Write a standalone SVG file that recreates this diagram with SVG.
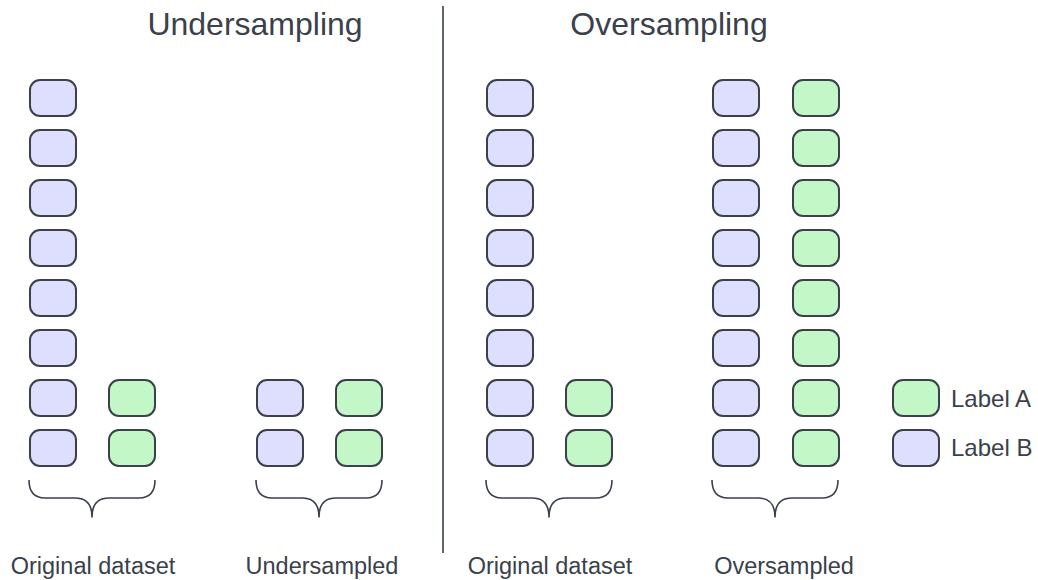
<svg xmlns="http://www.w3.org/2000/svg" width="1038" height="580" viewBox="0 0 1038 580">
  <defs>
    <rect id="cell" width="46" height="36" rx="10" ry="10"/>
    <path id="brace" d="M0 0 Q0 18 16 18 L46 18 Q63 18 63 37 Q63 18 80 18 L110 18 Q126 18 126 0"/>
  </defs>
  <style>
    .b { fill: #dedeff; stroke: #3a414a; stroke-width: 2; }
    .g { fill: #c3f7c8; stroke: #3a414a; stroke-width: 2; }
    .brace { fill: none; stroke: #3a414a; stroke-width: 1.6; stroke-linejoin: round; }
    .title { font-family: "Liberation Sans", Arial, sans-serif; font-size: 32px; fill: #3a414a; text-anchor: middle; }
    .lbl { font-family: "Liberation Sans", Arial, sans-serif; font-size: 23.5px; fill: #3a414a; text-anchor: middle; }
    .leg { font-family: "Liberation Sans", Arial, sans-serif; font-size: 24px; fill: #3a414a; }
  </style>
  <rect width="1038" height="580" fill="#ffffff"/>

  <!-- section titles and divider -->
  <text class="title" x="255" y="35">Undersampling</text>
  <text class="title" x="669" y="35">Oversampling</text>
  <line x1="443" y1="6" x2="443" y2="553" stroke="#5f6671" stroke-width="2"/>

  <!-- undersampling: original dataset -->
  <g id="under-original">
    <use href="#cell" class="b" x="30" y="80"/>
    <use href="#cell" class="b" x="30" y="130"/>
    <use href="#cell" class="b" x="30" y="180"/>
    <use href="#cell" class="b" x="30" y="230"/>
    <use href="#cell" class="b" x="30" y="280"/>
    <use href="#cell" class="b" x="30" y="330"/>
    <use href="#cell" class="b" x="30" y="380"/>
    <use href="#cell" class="b" x="30" y="430"/>
    <use href="#cell" class="g" x="109" y="380"/>
    <use href="#cell" class="g" x="109" y="430"/>
    <use href="#brace" class="brace" x="29" y="480"/>
    <text class="lbl" x="93" y="574">Original dataset</text>
  </g>

  <!-- undersampling: result -->
  <g id="under-result">
    <use href="#cell" class="b" x="257" y="380"/>
    <use href="#cell" class="b" x="257" y="430"/>
    <use href="#cell" class="g" x="336" y="380"/>
    <use href="#cell" class="g" x="336" y="430"/>
    <use href="#brace" class="brace" x="256" y="480"/>
    <text class="lbl" x="322" y="574">Undersampled</text>
  </g>

  <!-- oversampling: original dataset -->
  <g id="over-original">
    <use href="#cell" class="b" x="487" y="80"/>
    <use href="#cell" class="b" x="487" y="130"/>
    <use href="#cell" class="b" x="487" y="180"/>
    <use href="#cell" class="b" x="487" y="230"/>
    <use href="#cell" class="b" x="487" y="280"/>
    <use href="#cell" class="b" x="487" y="330"/>
    <use href="#cell" class="b" x="487" y="380"/>
    <use href="#cell" class="b" x="487" y="430"/>
    <use href="#cell" class="g" x="566" y="380"/>
    <use href="#cell" class="g" x="566" y="430"/>
    <use href="#brace" class="brace" x="486" y="480"/>
    <text class="lbl" x="550" y="574">Original dataset</text>
  </g>

  <!-- oversampling: result -->
  <g id="over-result">
    <use href="#cell" class="b" x="713" y="80"/>
    <use href="#cell" class="b" x="713" y="130"/>
    <use href="#cell" class="b" x="713" y="180"/>
    <use href="#cell" class="b" x="713" y="230"/>
    <use href="#cell" class="b" x="713" y="280"/>
    <use href="#cell" class="b" x="713" y="330"/>
    <use href="#cell" class="b" x="713" y="380"/>
    <use href="#cell" class="b" x="713" y="430"/>
    <use href="#cell" class="g" x="793" y="80"/>
    <use href="#cell" class="g" x="793" y="130"/>
    <use href="#cell" class="g" x="793" y="180"/>
    <use href="#cell" class="g" x="793" y="230"/>
    <use href="#cell" class="g" x="793" y="280"/>
    <use href="#cell" class="g" x="793" y="330"/>
    <use href="#cell" class="g" x="793" y="380"/>
    <use href="#cell" class="g" x="793" y="430"/>
    <use href="#brace" class="brace" x="712" y="480"/>
    <text class="lbl" x="784" y="574">Oversampled</text>
  </g>

  <!-- legend -->
  <g id="legend">
    <use href="#cell" class="g" x="893" y="380"/>
    <use href="#cell" class="b" x="893" y="430"/>
    <text class="leg" x="951" y="407">Label A</text>
    <text class="leg" x="951" y="456">Label B</text>
  </g>
</svg>
